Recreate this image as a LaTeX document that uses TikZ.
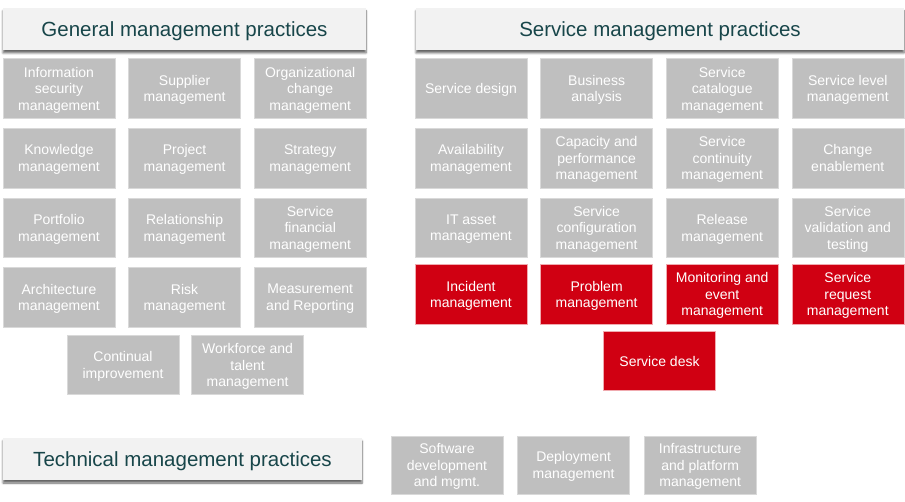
\documentclass[tikz,border=0pt]{standalone}
\usepackage{fontspec}
\setmainfont{Liberation Sans}
\usetikzlibrary{positioning,shadows,shadows.blur}
\definecolor{boxgrey}{RGB}{191,191,191}
\definecolor{boxedge}{RGB}{217,217,217}
\definecolor{incred}{RGB}{208,0,18}
\definecolor{rededge}{RGB}{240,170,175}
\definecolor{hdrfill}{RGB}{242,242,242}
\definecolor{hdrtext}{RGB}{24,70,74}

\begin{document}
\begin{tikzpicture}[ x = 1pt, y = -1pt, node distance = 9.5pt and 13pt,
prac/.style={ rectangle, fill = boxgrey, draw = boxedge, line width = 0.6pt, minimum width = 112pt, minimum height = 59.5pt, inner sep = 0pt, align = center, text = white, font = \fontsize{14}{16.5}\selectfont,
  text depth = -4pt },
key/.style={ prac, fill = incred, draw = rededge },
hdr/.style={ rectangle, fill = hdrfill, minimum height = 42pt, inner sep = 0pt, text = hdrtext, font = \fontsize{20.5}{24}\selectfont,
  text depth = -1pt,
  blur shadow={shadow xshift=0pt,shadow yshift=-3pt,shadow blur steps=6,shadow opacity=60} }
]
\useasboundingbox (0,0) rectangle (905,502);

%general management practices
\node (gen) [hdr, minimum width = 363pt] at (184.5,29) {General management practices};
\node (infosec) [prac] at (59,88.5) {Information\\security\\management};
\node (supplier) [prac, right = of infosec] {Supplier\\management};
\node (orgchange) [prac, right = of supplier] {Organizational\\change\\management};
\node (knowledge) [prac, below = of infosec] {Knowledge\\management};
\node (project) [prac, right = of knowledge] {Project\\management};
\node (strategy) [prac, right = of project] {Strategy\\management};
\node (portfolio) [prac, below = of knowledge] {Portfolio\\management};
\node (relation) [prac, right = of portfolio] {Relationship\\management};
\node (financial) [prac, right = of relation] {Service\\financial\\management};
\node (architect) [prac, below = of portfolio] {Architecture\\management};
\node (risk) [prac, right = of architect] {Risk\\management};
\node (measure) [prac, right = of risk] {Measurement\\and Reporting};
\node (continual) [prac] at (123,365) {Continual\\improvement};
\node (workforce) [prac, right = 12pt of continual] {Workforce and\\talent\\management};

%service management practices
\node (serv) [hdr, minimum width = 488pt] at (660,29) {Service management practices};
\node (design) [prac] at (471,88.5) {Service design};
\node (business) [prac, right = of design] {Business\\analysis};
\node (catalogue) [prac, right = of business] {Service\\catalogue\\management};
\node (level) [prac, right = of catalogue] {Service level\\management};
\node (avail) [prac, below = of design] {Availability\\management};
\node (capacity) [prac, right = of avail] {Capacity and\\performance\\management};
\node (continuity) [prac, right = of capacity] {Service\\continuity\\management};
\node (change) [prac, right = of continuity] {Change\\enablement};
\node (asset) [prac, below = of avail] {IT asset\\management};
\node (config) [prac, right = of asset] {Service\\configuration\\management};
\node (release) [prac, right = of config] {Release\\management};
\node (valid) [prac, right = of release] {Service\\validation and\\testing};
\node (incident) [key, below = 6.5pt of asset] {Incident\\management};
\node (problem) [key, right = of incident] {Problem\\management};
\node (monitor) [key, right = of problem] {Monitoring and\\event\\management};
\node (request) [key, right = of monitor] {Service\\request\\management};
\node (desk) [key] at (659.5,361) {Service desk};

%technical management practices
\node (tech) [hdr, minimum width = 359pt] at (182.5,459) {Technical management practices};
\node (software) [prac, minimum height = 58pt] at (447,465) {Software\\development\\and mgmt.};
\node (deploy) [prac, minimum height = 58pt, right = 14pt of software] {Deployment\\management};
\node (infra) [prac, minimum height = 58pt, right = 14pt of deploy] {Infrastructure\\and platform\\management};
\end{tikzpicture}
\end{document}
